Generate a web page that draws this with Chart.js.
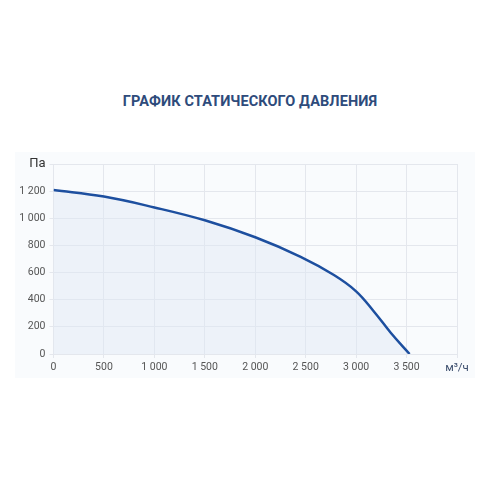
<!DOCTYPE html>
<html><head><meta charset="utf-8">
<script src="https://cdn.jsdelivr.net/npm/chart.js@4"></script>
<style>
html,body{margin:0;padding:0;background:#fff;width:500px;height:500px;overflow:hidden;font-family:Roboto,"Open Sans",sans-serif}
#panel{position:absolute;left:15px;top:152px;width:460px;height:226px;background:#f9fbfd}
#title{position:absolute;left:0;top:93px;width:500px;text-align:center;font-weight:bold;font-size:14.5px;color:#2e4b7b;letter-spacing:0.1px}
#wrap{position:absolute;left:0;top:0;width:500px;height:500px}
</style></head><body>
<div id="panel"></div>
<div id="title">ГРАФИК СТАТИЧЕСКОГО ДАВЛЕНИЯ</div>
<div id="wrap"><canvas id="c" width="500" height="500"></canvas></div>
<script>
const flow = [0, 500, 1000, 1500, 2000, 2450, 2780, 3000, 3180, 3345, 3530];
const pressure = [1208, 1160, 1080, 985, 860, 716, 582, 462, 310, 155, 0];
const xTicks = [0, 500, 1000, 1500, 2000, 2500, 3000, 3500, 4000];
const yTicks = [0, 200, 400, 600, 800, 1000, 1200, 1400];
const xUnit = 'м³/ч';
const yUnit = 'Па';

const fmt = v => String(v).replace(/\B(?=(\d{3})+(?!\d))/g, ' ');
const points = flow.map((f, i) => ({x: f, y: pressure[i]}));

new Chart(document.getElementById('c'), {
  type: 'line',
  data: { datasets: [{
    data: points,
    borderColor: '#1d4f9f',
    borderWidth: 2.5,
    backgroundColor: 'rgba(222,231,245,0.45)',
    fill: 'origin',
    pointRadius: 0,
    tension: 0.4
  }]},
  options: {
    responsive: false,
    animation: false,
    layout: { padding: { left: 0, right: 43, top: 164, bottom: 0 } },
    plugins: { legend: { display: false }, tooltip: { enabled: false } },
    scales: {
      x: {
        type: 'linear', min: 0, max: 4000,
        afterBuildTicks: s => { s.ticks = xTicks.map(v => ({value: v})); },
        afterFit: s => { s.height = 146; },
        grid: { color: '#e4e7ed', tickLength: 4 },
        border: { color: '#e4e7ed' },
        ticks: {
          color: ctx => ctx.tick && ctx.tick.value === 4000 ? '#3d4f6e' : '#555',
          font: ctx => ({ family: 'Roboto', size: ctx.tick && ctx.tick.value === 4000 ? 11.5 : 10.5 }),
          padding: 3,
          maxRotation: 0,
          autoSkip: false,
          callback: v => v === 4000 ? xUnit : fmt(v)
        }
      },
      y: {
        min: 0, max: 1400,
        afterBuildTicks: s => { s.ticks = yTicks.map(v => ({value: v})); },
        afterFit: s => { s.width = 53.5; },
        grid: { color: '#e4e7ed', tickLength: 4 },
        border: { color: '#e4e7ed' },
        ticks: {
          color: ctx => ctx.tick && ctx.tick.value === 1400 ? '#333' : '#555',
          font: ctx => ({ family: 'Roboto', size: ctx.tick && ctx.tick.value === 1400 ? 13 : 10.5 }),
          padding: 4,
          autoSkip: false,
          callback: v => v === 1400 ? yUnit : fmt(v)
        }
      }
    }
  }
});
</script>
</body></html>
